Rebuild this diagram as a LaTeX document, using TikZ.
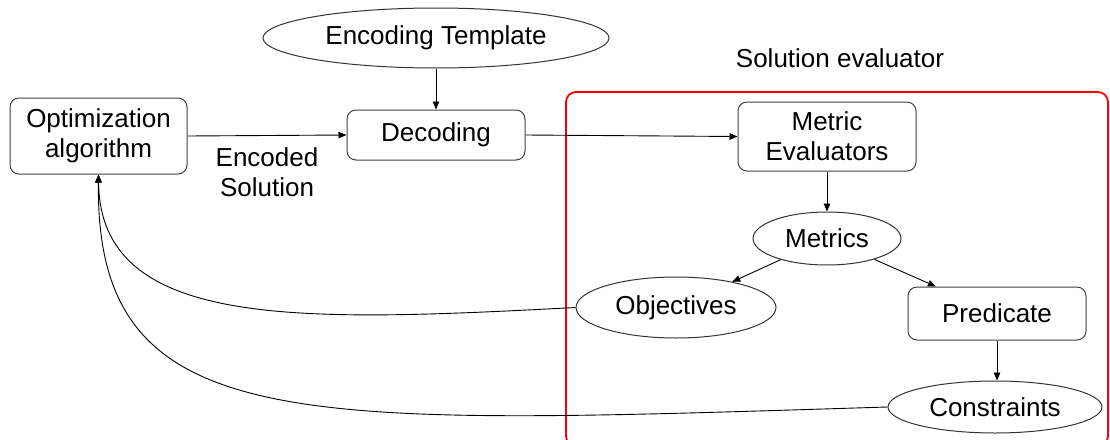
\documentclass[tikz,border=0pt]{standalone}
\usepackage{fontspec}
\setmainfont{Liberation Sans}
\usetikzlibrary{shapes.geometric,arrows.meta}
\begin{document}
\begin{tikzpicture}[x=1pt,y=-1pt,
  every node/.style={font=\fontsize{26}{30}\selectfont, inner sep=0pt},
  box/.style={draw=black!75, line width=1pt, rounded corners=9pt, minimum width=178pt, align=center},
  oval/.style={draw=black!80, ellipse, line width=1pt},
  link/.style={line width=0.9pt, -{Triangle[length=8pt,width=6.5pt]}},
  frame/.style={draw=red, line width=1.8pt, rounded corners=10pt}]
\useasboundingbox (0,0) rectangle (1110,439);

% evaluator frame (runs past the lower edge) and its title
\draw[frame] (566,92) rectangle (1108,446);
\node (evaltitle) at (840,58) {Solution evaluator};

% nodes
\node[oval, minimum width=346pt, minimum height=60pt] (enc) at (436,38) {Encoding Template};
\node[box, minimum height=50pt] (dec) at (436,135) {Decoding};
\node[box, minimum width=177pt, minimum height=76pt] (opt) at (98.5,136) {Optimization\\algorithm};
\node[align=center] (enclabel) at (267,172) {Encoded\\Solution};
\node[box, minimum height=69pt] (met) at (827,136.5) {Metric\\Evaluators};
\node[oval, minimum width=148pt, minimum height=53pt] (mets) at (827,238.5) {Metrics};
\node[oval, minimum width=200pt, minimum height=61pt] (obj) at (676,307.5) {Objectives};
\node[box, minimum height=53pt] (pred) at (997,313.5) {Predicate};
\node[oval, minimum width=214pt, minimum height=52pt] (cons) at (995,407) {Constraints};

% connectors
\draw[link] (enc) -- (dec);
\draw[link] (opt.east) -- (dec.west);
\draw[link] (dec.east) -- (met.west);
\draw[link] (met) -- (mets);
\draw[link] (mets) -- (obj);
\draw[link] (mets) -- (pred);
\draw[link] (pred.south) -- (pred.south |- cons.north);
\draw[link] (obj.west) .. controls (300,322) and (100,330) .. (opt.south);
\draw[link] (cons.west) .. controls (300,425) and (95,440) .. (opt.south);
\end{tikzpicture}
\end{document}
